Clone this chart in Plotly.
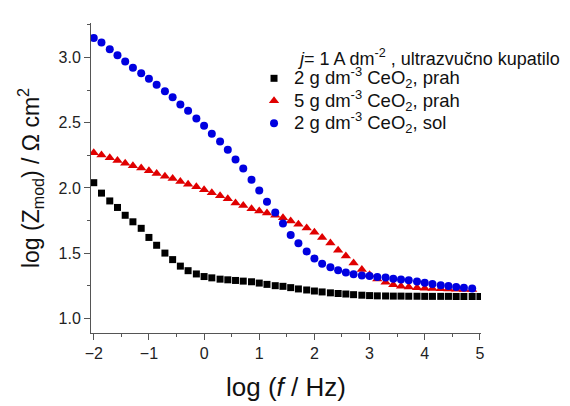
import plotly.graph_objects as go

# log(f / Hz)
log_f = [-2.00, -1.86, -1.71, -1.57, -1.43, -1.29, -1.14, -1.00, -0.86, -0.71,
         -0.57, -0.43, -0.29, -0.14, 0.00, 0.14, 0.29, 0.43, 0.57, 0.71,
         0.86, 1.00, 1.14, 1.29, 1.43, 1.57, 1.71, 1.86, 2.00, 2.14,
         2.29, 2.43, 2.57, 2.71, 2.86, 3.00, 3.14, 3.29, 3.43, 3.57,
         3.71, 3.86, 4.00, 4.14, 4.29, 4.43, 4.57, 4.71, 4.86, 5.00]

# 2 g dm-3 CeO2, prah
z_prah2 = [2.04, 1.96, 1.90, 1.85, 1.79, 1.74, 1.69, 1.62, 1.56, 1.50,
           1.45, 1.40, 1.365, 1.34, 1.32, 1.31, 1.30, 1.295, 1.29, 1.285,
           1.28, 1.27, 1.26, 1.25, 1.245, 1.235, 1.225, 1.217, 1.209, 1.202,
           1.195, 1.19, 1.186, 1.181, 1.177, 1.174, 1.172, 1.171, 1.17, 1.17,
           1.169, 1.169, 1.168, 1.168, 1.168, 1.168, 1.167, 1.167, 1.167, 1.167]

# 5 g dm-3 CeO2, prah
z_prah5 = [2.270, 2.252, 2.231, 2.211, 2.190, 2.170, 2.152, 2.131, 2.111, 2.090,
           2.073, 2.050, 2.029, 2.009, 1.986, 1.963, 1.940, 1.917, 1.885, 1.865,
           1.840, 1.822, 1.807, 1.790, 1.771, 1.746, 1.722, 1.692, 1.660, 1.620,
           1.578, 1.522, 1.478, 1.424, 1.375, 1.333, 1.302, 1.276, 1.258, 1.245,
           1.239, 1.234, 1.231, 1.228, 1.226, 1.224, 1.222, 1.221, 1.220]

# 2 g dm-3 CeO2, sol
z_sol2 = [3.150, 3.115, 3.064, 3.018, 2.969, 2.921, 2.880, 2.837, 2.791, 2.742,
          2.696, 2.640, 2.591, 2.533, 2.476, 2.415, 2.356, 2.293, 2.218, 2.149,
          2.063, 1.981, 1.893, 1.811, 1.727, 1.638, 1.576, 1.513, 1.459, 1.419,
          1.391, 1.368, 1.351, 1.338, 1.329, 1.324, 1.317, 1.312, 1.303, 1.297,
          1.291, 1.282, 1.272, 1.262, 1.254, 1.247, 1.240, 1.234, 1.229]

names = ["2 g dm<sup>-3</sup> CeO<sub>2</sub>, prah",
         "5 g dm<sup>-3</sup> CeO<sub>2</sub>, prah",
         "2 g dm<sup>-3</sup> CeO<sub>2</sub>, sol"]

font = "Arial, Liberation Sans, sans-serif"


def big(txt):
    # larger glyphs than the legend row height would give
    return '<span style="font-size:18.5px">' + txt + "</span>"


fig = go.Figure()
fig.add_trace(go.Scatter(x=log_f, y=z_prah2, mode="markers", name=big(names[0]),
                         marker=dict(symbol="square", size=7, color="#000000")))
fig.add_trace(go.Scatter(x=log_f[:len(z_prah5)], y=z_prah5, mode="markers", name=big(names[1]),
                         marker=dict(symbol="triangle-up", size=9, color="#e00000")))
fig.add_trace(go.Scatter(x=log_f[:len(z_sol2)], y=z_sol2, mode="markers", name=big(names[2]),
                         marker=dict(symbol="circle", size=8, color="#0000e0")))

axis_common = dict(
    showline=True, linecolor="#555555", linewidth=1,
    ticks="outside", ticklen=6, tickcolor="#555555",
    showgrid=False, zeroline=False, mirror=False, automargin=False,
    tickfont=dict(family=font, size=16, color="#222222"),
)

fig.update_xaxes(
    range=[-2.05, 5.02], dtick=1, tick0=0,
    minor=dict(dtick=0.5, ticks="outside", ticklen=3, tickcolor="#555555"),
    title=dict(text="log (<i>f</i> / Hz)", font=dict(family=font, size=26, color="#111111"),
               standoff=16),
    **axis_common,
)
fig.update_yaxes(
    range=[0.887, 3.265], dtick=0.5, tick0=0, tickformat=".1f",
    minor=dict(dtick=0.25, ticks="outside", ticklen=3, tickcolor="#555555"),
    title=dict(text="log (Z<sub>mod</sub>) / Ω cm<sup>2</sup>",
               font=dict(family=font, size=23, color="#111111"), standoff=12),
    **axis_common,
)

fig.add_annotation(
    text="<i>j</i>= 1 A dm<sup>-2</sup> , ultrazvučno kupatilo",
    xref="paper", yref="paper", x=0.522, y=0.89, xanchor="left", yanchor="middle",
    showarrow=False, font=dict(family=font, size=18, color="#111111"),
)

# the page body adds an 8 px offset, so the figure is 8 px smaller than the window
fig.update_layout(
    width=562, height=398,
    margin=dict(l=83, r=89, t=15, b=73),
    plot_bgcolor="white", paper_bgcolor="white",
    showlegend=True,
    legend=dict(x=0.418, y=0.874, xanchor="left", yanchor="top",
                font=dict(family=font, size=15, color="#111111"),
                bgcolor="rgba(0,0,0,0)", itemwidth=30, tracegroupgap=0),
)

fig.write_html("out.html")
